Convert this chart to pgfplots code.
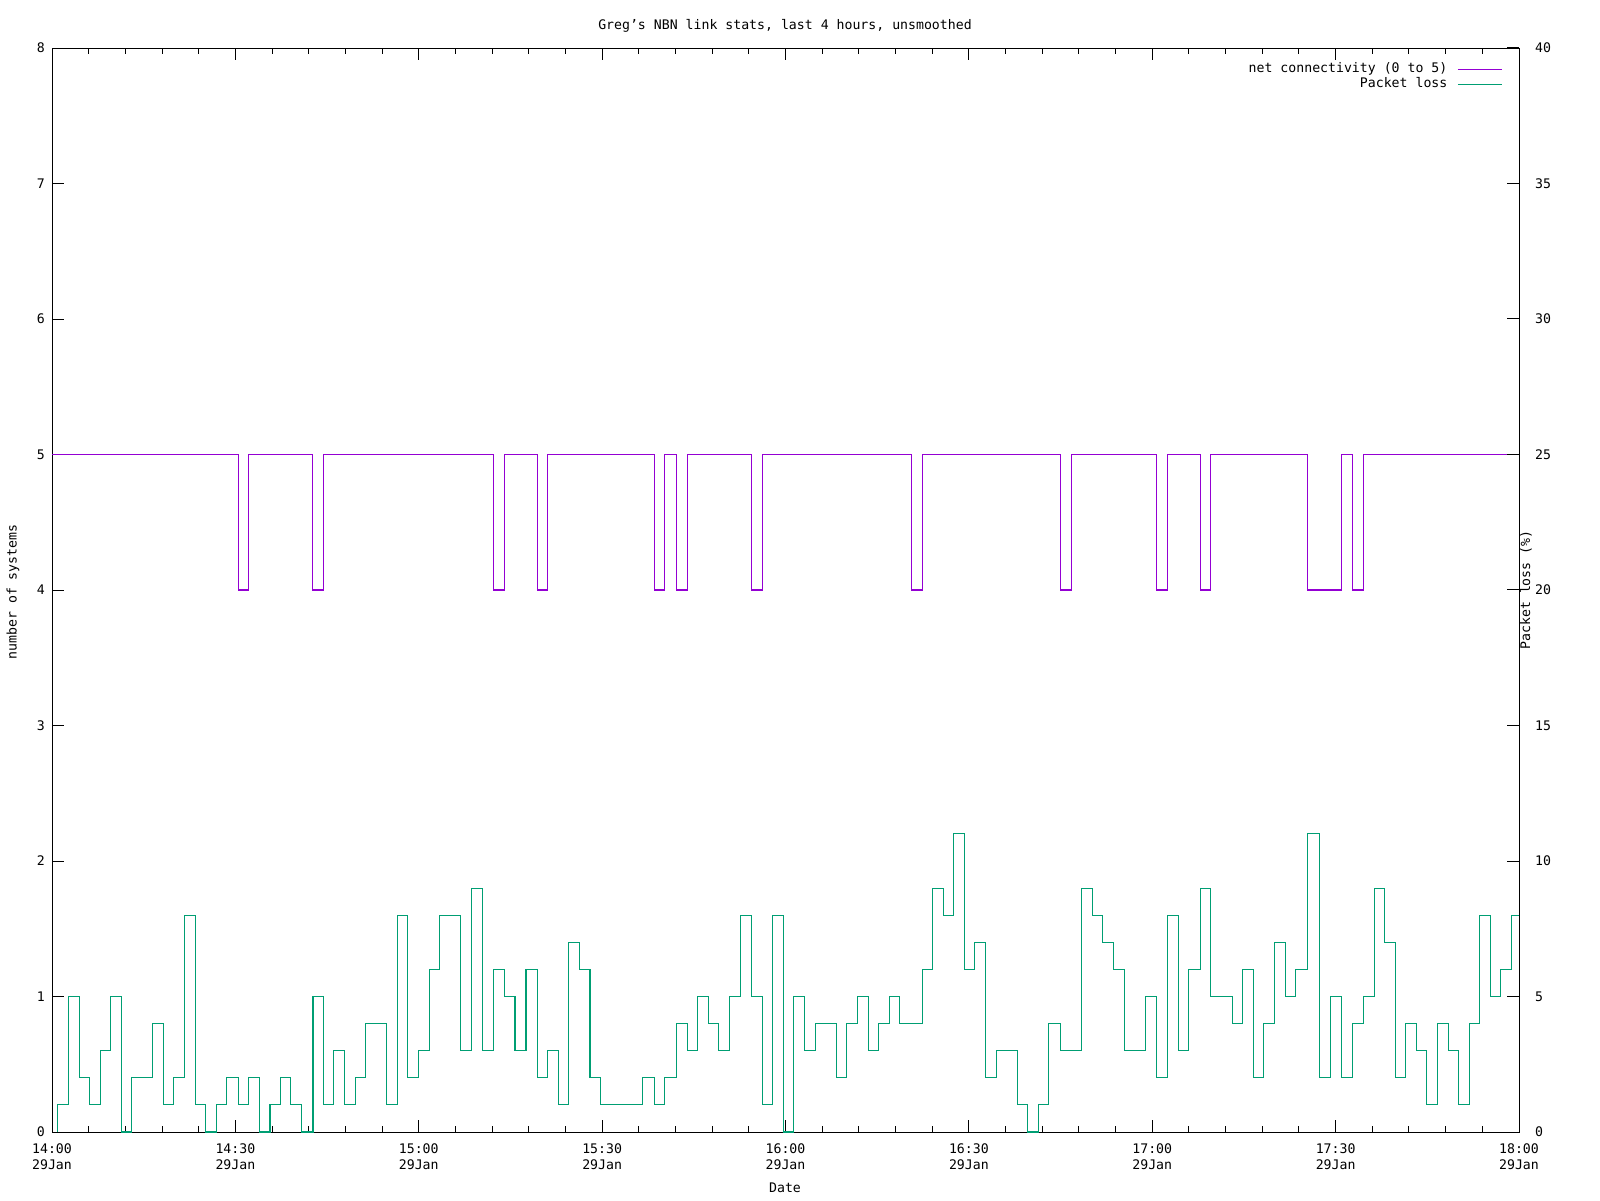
\documentclass[border=0pt]{standalone}
\usepackage{fontspec}
\setmainfont{DejaVu Sans Mono}
\usepackage{pgfplots}
\pgfplotsset{compat=1.18}
\definecolor{gpviolet}{HTML}{9400D3}
\definecolor{gpgreen}{HTML}{009E73}
\newcommand\gpfont{\fontsize{6.6}{8}\selectfont}

% minutes after 14:00, value held until next row
\pgfplotstableread{
t v
0 5
30.54 4
32.18 5
42.64 4
44.44 5
72.25 4
74.05 5
79.45 4
81.08 5
98.58 4
100.22 5
102.18 4
103.98 5
114.45 4
116.25 5
140.62 4
142.42 5
164.99 4
166.79 5
180.64 4
182.49 5
187.89 4
189.52 5
205.39 4
210.95 5
212.75 4
214.55 5
240 5
}\netconn

\pgfplotstableread{
t v
0.94 0
0.94 1
2.74 5
4.54 2
6.17 1
7.97 3
9.61 5
11.40 0
13.04 2
16.48 4
18.27 1
19.91 2
21.71 8
23.51 1
25.14 0
26.94 1
28.58 2
30.54 1
32.18 2
33.98 0
35.67 1
37.41 2
39.05 1
40.85 0
42.70 5
44.44 1
46.08 3
47.88 1
49.62 2
51.31 4
54.75 1
56.55 8
58.18 2
59.98 3
61.78 6
63.42 8
66.85 3
68.65 9
70.45 3
72.25 6
74.05 5
75.74 3
77.54 6
79.45 2
81.08 3
82.88 1
84.52 7
86.32 6
88.01 2
89.75 1
96.62 2
98.64 1
100.27 2
102.18 4
103.98 3
105.61 5
107.41 4
109.05 3
110.90 5
112.65 8
114.45 5
116.25 1
117.94 8
119.68 0
121.32 5
123.12 3
124.92 4
128.30 2
129.99 4
131.84 5
133.58 3
135.22 4
137.02 5
138.65 4
142.42 6
144.11 9
145.85 8
147.49 11
149.29 6
150.98 7
152.72 2
154.52 3
157.95 1
159.64 0
161.39 1
163.08 4
164.99 3
168.48 9
170.22 8
171.91 7
173.66 6
175.46 3
178.95 5
180.69 2
182.49 8
184.29 3
185.95 6
187.94 9
189.57 5
193.12 4
194.81 6
196.55 2
198.19 4
200.04 7
201.79 5
203.42 6
205.33 11
207.35 2
209.15 5
211.00 2
212.75 4
214.55 5
216.35 9
217.98 7
219.78 2
221.47 4
223.21 3
224.85 1
226.65 4
228.45 3
230.08 1
231.88 4
233.52 8
235.32 5
236.95 6
238.75 8
240 8
}\pktloss

\pgfplotsset{
  gp/.style={
    at={(26pt,34pt)}, anchor=south west,
    width=733.5pt, height=542pt, scale only axis,
    xmin=0, xmax=240,
    font=\gpfont,
    tick align=inside,
    major tick length=6pt, minor tick length=3pt,
    every tick/.style={black, line width=0.5pt},
    axis line style={line width=0.5pt},
    /pgf/number format/assume math mode=true,
  },
}

\begin{document}
\begin{tikzpicture}
\path[use as bounding box] (0,0) rectangle (800pt,600pt);

\begin{axis}[gp,
    ymin=0, ymax=8, ytick={0,1,...,8},
    ytick pos=left,
    xtick={0,30,...,240},
    minor x tick num=4,
    xticklabels={14:00\\29Jan,14:30\\29Jan,15:00\\29Jan,15:30\\29Jan,16:00\\29Jan,16:30\\29Jan,17:00\\29Jan,17:30\\29Jan,18:00\\29Jan},
    xticklabel style={align=center, yshift=-2.5pt},
  ]
  \addplot[const plot, gpviolet, line width=0.55pt] table[x=t,y=v] {\netconn};
\end{axis}

\begin{axis}[gp,
    hide x axis,
    axis y line*=right,
    ymin=0, ymax=40, ytick={0,5,...,40},
    yticklabel style={xshift=4.5pt},
    legend plot pos=right,
    legend cell align=right,
    legend image code/.code={\draw[#1] (0pt,0pt) -- (22pt,0pt);},
    legend style={at={(rel axis cs:0.989,0.988)}, anchor=north east,
      draw=none, fill=none, font=\gpfont, inner sep=0pt,
      row sep=0pt, column sep=5pt,
      nodes={inner xsep=0pt, inner ysep=0.5pt, text height=5pt, text depth=1.7pt}},
  ]
  \addlegendimage{gpviolet, line width=0.55pt}
  \addlegendentry{net connectivity (0 to 5)}
  \addplot[const plot, gpgreen, line width=0.55pt] table[x=t,y=v] {\pktloss};
  \addlegendentry{Packet loss}
\end{axis}

\node[font=\gpfont] at (392.5pt,587pt) {Greg's NBN link stats, last 4 hours, unsmoothed};
\node[font=\gpfont, rotate=90] at (6.5pt,304pt) {number of systems};
\node[font=\gpfont, rotate=90] at (763pt,305pt) {Packet loss (\%)};
\node[font=\gpfont] at (392.5pt,6pt) {Date};
\end{tikzpicture}
\end{document}
